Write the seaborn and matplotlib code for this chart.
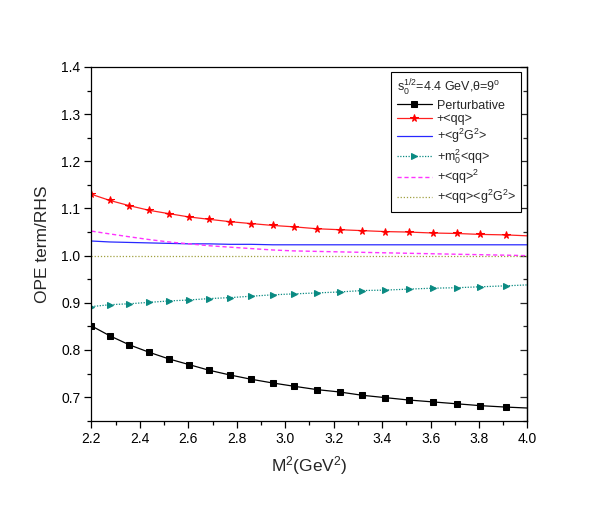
"""
OPE 各项贡献随 Borel 参数 M^2 的变化 (s0^(1/2)=4.4 GeV, theta=9 deg)
"""

import matplotlib
matplotlib.use("Agg")
import matplotlib.pyplot as plt
from matplotlib.ticker import MultipleLocator, FormatStrFormatter
import seaborn as sns

# 横坐标 M^2 (GeV^2)，最后一个点只画线不画标记
m2 = [2.200, 2.276, 2.356, 2.439, 2.520, 2.603, 2.686, 2.772, 2.859, 2.949,
      3.038, 3.131, 3.224, 3.318, 3.413, 3.509, 3.608, 3.707, 3.806, 3.910, 4.000]

pert = [0.851, 0.830, 0.811, 0.795, 0.781, 0.769, 0.757, 0.747, 0.738, 0.730,
        0.723, 0.716, 0.711, 0.704, 0.699, 0.694, 0.690, 0.686, 0.682, 0.679, 0.677]
qq = [1.130, 1.117, 1.106, 1.096, 1.089, 1.082, 1.077, 1.072, 1.068, 1.064,
      1.061, 1.057, 1.055, 1.053, 1.051, 1.050, 1.048, 1.047, 1.045, 1.044, 1.042]
g2g2 = [1.031, 1.029, 1.028, 1.027, 1.026, 1.025, 1.025, 1.024, 1.024, 1.023,
        1.023, 1.023, 1.023, 1.023, 1.023, 1.023, 1.023, 1.023, 1.023, 1.023, 1.023]
m0qq = [0.892, 0.896, 0.898, 0.901, 0.904, 0.906, 0.909, 0.911, 0.914, 0.917,
        0.919, 0.921, 0.923, 0.926, 0.927, 0.929, 0.931, 0.932, 0.934, 0.936, 0.938]
qq2 = [1.052, 1.046, 1.040, 1.034, 1.029, 1.025, 1.021, 1.018, 1.015, 1.012,
       1.010, 1.009, 1.008, 1.007, 1.006, 1.005, 1.004, 1.003, 1.002, 1.001, 1.000]
qqg2g2 = [1.000, 1.000, 1.000, 1.000, 1.000, 1.000, 1.000, 1.000, 1.000, 1.000,
          1.000, 1.000, 1.000, 1.000, 1.000, 1.000, 1.000, 1.000, 1.000, 1.000, 1.000]

labels = ["Perturbative",
          "+<qq>",
          r"+<g$\mathregular{^2}$G$\mathregular{^2}$>",
          r"+m$\mathregular{_0^2}$<qq>",
          r"+<qq>$\mathregular{^2}$",
          r"+<qq><g$\mathregular{^2}$G$\mathregular{^2}$>"]

sns.set_style("white")
plt.rcParams['font.family'] = ['Liberation Sans', 'DejaVu Sans']
plt.rcParams['mathtext.fontset'] = 'custom'
plt.rcParams['mathtext.rm'] = 'Liberation Sans'
plt.rcParams['mathtext.it'] = 'Liberation Sans:italic'

fig, ax = plt.subplots(figsize=(5.94, 5.15), dpi=100)
fig.subplots_adjust(left=0.154, right=0.888, bottom=0.183, top=0.870)

marks = slice(0, 20)
sns.lineplot(x=m2, y=pert, ax=ax, color='black', lw=0.9, marker='s', ms=4.5,
             mec='black', markevery=marks, label=labels[0])
sns.lineplot(x=m2, y=qq, ax=ax, color='#ff2020', lw=0.9, marker='*', ms=5.5,
             mec='red', mfc='red', markevery=marks, label=labels[1])
sns.lineplot(x=m2, y=g2g2, ax=ax, color='#2828ff', lw=0.9, label=labels[2])
sns.lineplot(x=m2, y=m0qq, ax=ax, color='#0a8a82', lw=0.9, ls=(0, (1, 1.2)),
             marker='>', ms=5, mec='#0a8a82', markevery=marks, label=labels[3])
sns.lineplot(x=m2, y=qq2, ax=ax, color='#ff33ff', lw=1.0, ls=(0, (3, 2)),
             label=labels[4])
sns.lineplot(x=m2, y=qqg2g2, ax=ax, color='#a0a040', lw=0.9, ls=(0, (1, 1.5)),
             label=labels[5])

ax.set_xlim(2.2, 4.0)
ax.set_ylim(0.65, 1.4)
ax.xaxis.set_major_locator(MultipleLocator(0.2))
ax.xaxis.set_minor_locator(MultipleLocator(0.1))
ax.yaxis.set_major_locator(MultipleLocator(0.1))
ax.yaxis.set_minor_locator(MultipleLocator(0.05))
ax.xaxis.set_major_formatter(FormatStrFormatter('%.1f'))
ax.yaxis.set_major_formatter(FormatStrFormatter('%.1f'))
ax.tick_params(which='both', direction='out', left=True, bottom=True,
               colors='black', labelsize=10, width=0.9)
ax.tick_params(which='major', length=5, pad=3)
ax.tick_params(which='minor', length=3)
for s in ax.spines.values():
    s.set_color('black')
    s.set_linewidth(0.9)

# 右侧刻度朝内，无标签
sec = ax.secondary_yaxis('right')
sec.yaxis.set_major_locator(MultipleLocator(0.1))
sec.yaxis.set_minor_locator(MultipleLocator(0.05))
sec.tick_params(which='both', direction='in', labelright=False, width=0.9)
sec.tick_params(which='major', length=5)
sec.tick_params(which='minor', length=3)
sec.spines['right'].set_linewidth(0.9)

ax.set_xlabel(r"M$\mathregular{^2}$(GeV$\mathregular{^2}$)", fontsize=12.5, labelpad=6)
ax.set_ylabel("OPE term/RHS", fontsize=12.5, labelpad=8)

leg = ax.legend(title=r"s$\mathregular{_0^{1/2}}$=4.4 GeV,$\mathregular{\theta}$=9$\mathregular{^o}$",
                loc='upper right', bbox_to_anchor=(0.986, 0.986), borderaxespad=0,
                fontsize=9, title_fontsize=9, alignment='left', frameon=True,
                fancybox=False, edgecolor='black', framealpha=1,
                handlelength=2.8, handletextpad=0.4, labelspacing=0.15,
                borderpad=0.45)
leg.get_frame().set_linewidth(0.8)

plt.savefig("out.png", dpi=100)
